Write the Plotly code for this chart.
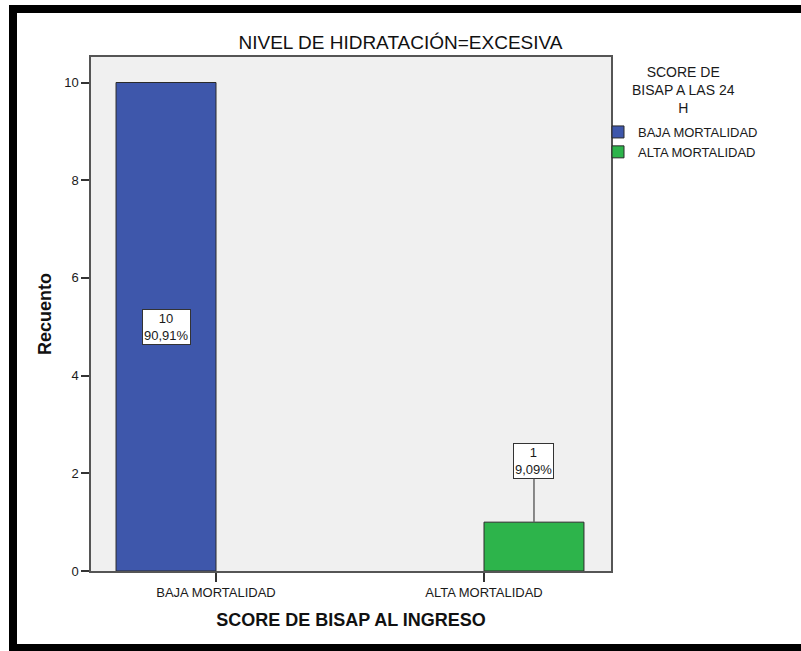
import plotly.graph_objects as go

# ---- data ----
categories = ["BAJA MORTALIDAD", "ALTA MORTALIDAD"]          # x: SCORE DE BISAP AL INGRESO
series_names = ["BAJA MORTALIDAD", "ALTA MORTALIDAD"]        # legend: SCORE DE BISAP A LAS 24 H
counts_baja = [10, 0]
counts_alta = [0, 1]
y_ticks = [0, 2, 4, 6, 8, 10]

series_values = [counts_baja, counts_alta]
colors = ["#3E57AB", "#2DB44B"]

total = sum(sum(v) for v in series_values)

BARGAP = 0.254
fig = go.Figure()
for name, vals, col in zip(series_names, series_values, colors):
    fig.add_trace(go.Bar(
        x=categories,
        y=[v if v != 0 else None for v in vals],
        name=name,
        marker=dict(color=col, line=dict(color="#2a2a2a", width=1)),
        hoverinfo="x+y+name",
    ))

L, R, T, B = 91, 611, 57, 571
def px_x(p):
    return (p - L) / (R - L)
def px_y(p):
    return (B - p) / (B - T)

# data labels (count + percent) in boxes
annotations = []
n_series = len(series_values)
bar_w = (1 - BARGAP) / n_series
for si, vals in enumerate(series_values):
    offset = -(1 - BARGAP) / 2 + bar_w * (si + 0.5)
    for ci, v in enumerate(vals):
        if v == 0:
            continue
        pct = f"{100 * v / total:.2f}".replace(".", ",") + "%"
        text = f"{v}<br>{pct}"
        common = dict(
            x=ci + offset, y=v / 2, xref="x", yref="y", text=text,
            font=dict(family="Liberation Sans, Arial", size=13, color="#1a1a1a"),
            bgcolor="white", bordercolor="#333333", borderwidth=1, borderpad=1,
        )
        if v >= 3:
            annotations.append(dict(common, showarrow=False))
        else:
            common["y"] = v
            annotations.append(dict(common, showarrow=True, arrowhead=0, arrowwidth=1.5,
                                    arrowcolor="#666666", ax=0, ay=-61, standoff=0))

# legend title as centered text
annotations.append(dict(
    x=px_x(683), y=px_y(90), xref="paper", yref="paper",
    text="SCORE DE<br>BISAP A LAS 24<br>H",
    showarrow=False, font=dict(family="Liberation Sans, Arial", size=14, color="#1a1a1a"),
    xanchor="center", yanchor="middle",
))

fig.update_layout(
    width=801, height=651,
    margin=dict(l=L, r=801 - R, t=T, b=651 - B, pad=0),
    paper_bgcolor="white", plot_bgcolor="#F0F0F0",
    barmode="group", bargap=BARGAP, bargroupgap=0,
    font=dict(family="Liberation Sans, Arial", size=13, color="#1a1a1a"),
    title=dict(text="NIVEL DE HIDRATACIÓN=EXCESIVA", x=0.5, xanchor="center",
               y=1 - 42 / 651, yanchor="middle",
               font=dict(family="Liberation Sans, Arial", size=19, color="#111111")),
    showlegend=True,
    legend=dict(x=px_x(598), y=px_y(117), xanchor="left", yanchor="top",
                font=dict(family="Liberation Sans, Arial", size=13, color="#1a1a1a"),
                bgcolor="rgba(0,0,0,0)", itemclick=False, tracegroupgap=0),
    annotations=annotations,
    shapes=[dict(type="rect", xref="paper", yref="paper",
                 x0=px_x(13), x1=px_x(830), y0=px_y(648), y1=px_y(9),
                 line=dict(color="black", width=8), fillcolor="rgba(0,0,0,0)", layer="above")],
)

fig.update_xaxes(
    type="category", range=[(L - 216) / 268, (R - 216) / 268],
    showline=True, linecolor="#555555", linewidth=1.5, mirror=True,
    ticks="outside", ticklen=9, tickwidth=1.5, tickcolor="#333333",
    tickfont=dict(size=13), showgrid=False, zeroline=False,
    title=dict(text="<b>SCORE DE BISAP AL INGRESO</b>", standoff=14,
               font=dict(size=18, color="#111111")),
)
fig.update_yaxes(
    range=[0, (B - T) / 48.85], tickvals=y_ticks,
    showline=True, linecolor="#555555", linewidth=1.5, mirror=True,
    ticks="outside", ticklen=8, tickwidth=1.5, tickcolor="#333333",
    tickfont=dict(size=13), showgrid=False, zeroline=False,
    title=dict(text="<b>Recuento</b>", standoff=8, font=dict(size=18, color="#111111")),
)

fig.write_html("out.html", config={"displayModeBar": False},
               post_script="document.body.style.margin='0';")
